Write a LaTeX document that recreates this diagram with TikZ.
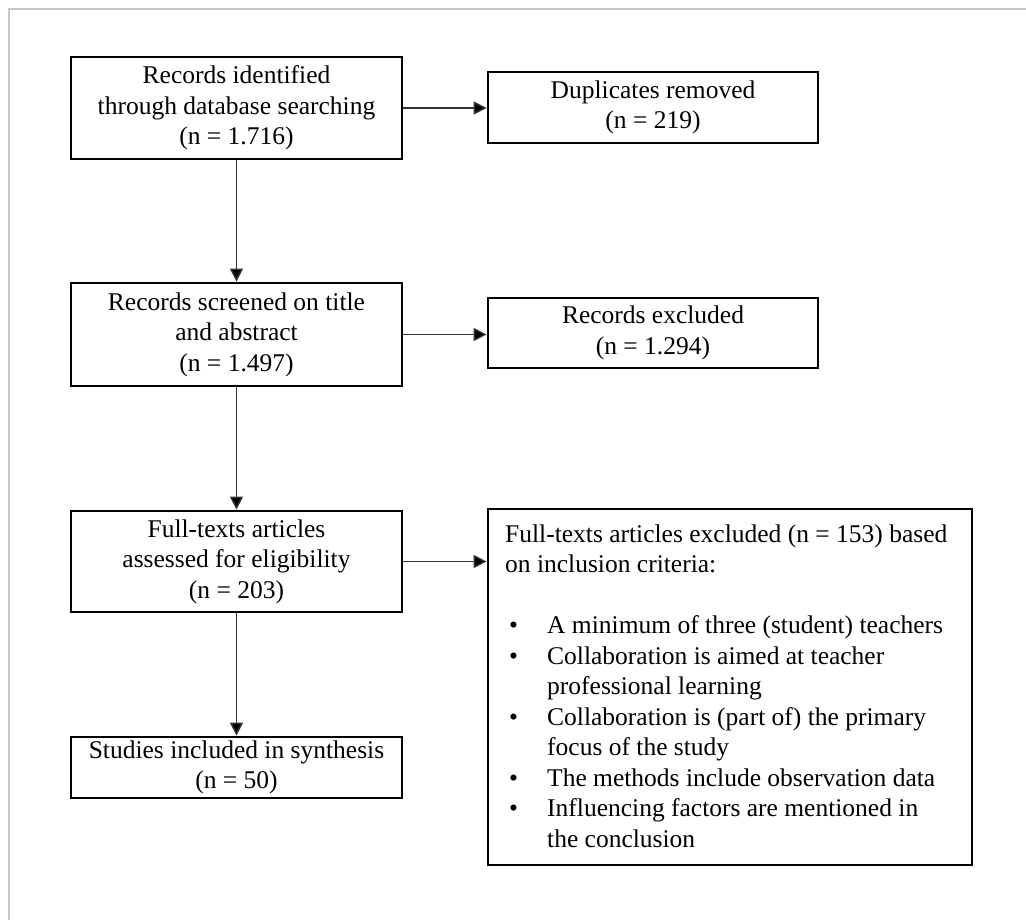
\documentclass[tikz,border=0pt]{standalone}
\usepackage{fontspec}
\setmainfont{Liberation Serif}
\usetikzlibrary{arrows.meta,calc}
\begin{document}
\begin{tikzpicture}[x=1pt,y=-1pt,
  txt/.style={font=\fontsize{25.5}{30.5}\selectfont},
  box/.style={txt,draw=black,line width=2.8pt,rectangle,inner sep=0pt,align=center},
  conn/.style={draw=black!80,line width=1.4pt,-{Triangle[width=13pt,length=13pt,fill=black]}}]
\useasboundingbox (0,0) rectangle (1026,920);
\draw[black!22,line width=2.2pt] (1026,9) -- (9,9) -- (9,920);
% left column
\node[box,minimum width=331pt,minimum height=102pt] (rid) at (236.5,108)
  {Records identified\\through database searching\\(n = 1.716)};
\node[box,minimum width=331pt,minimum height=103pt] (rsc) at (236.5,334.5)
  {Records screened on title\\and abstract\\(n = 1.497)};
\node[box,minimum width=331pt,minimum height=101pt] (fta) at (236.5,561.5)
  {Full-texts articles\\assessed for eligibility\\(n = 203)};
\node[box,minimum width=331pt,minimum height=61pt] (stu) at (236.5,767.5)
  {Studies included in synthesis\\(n = 50)};
% right column
\node[box,minimum width=330pt,minimum height=71pt] (dup) at (653,107.5)
  {Duplicates removed\\(n = 219)};
\node[box,minimum width=330pt,minimum height=70pt] (rex) at (653,333)
  {Records excluded\\(n = 1.294)};
\node[draw=black,line width=2.8pt,rectangle,inner sep=0pt,minimum width=484pt,minimum height=356pt] (exc) at (730,687) {};
\node[txt,anchor=north west,inner sep=0pt,align=left] (exctext) at (505,520.6)
  {\strut Full-texts articles excluded (n = 153) based\\
   on inclusion criteria:\\[30.5pt]
   \makebox[42pt][l]{\hspace{4pt}•}A minimum of three (student) teachers\\
   \makebox[42pt][l]{\hspace{4pt}•}Collaboration is aimed at teacher\\
   \hspace*{42pt}professional learning\\
   \makebox[42pt][l]{\hspace{4pt}•}Collaboration is (part of) the primary\\
   \hspace*{42pt}focus of the study\\
   \makebox[42pt][l]{\hspace{4pt}•}The methods include observation data\\
   \makebox[42pt][l]{\hspace{4pt}•}Influencing factors are mentioned in\\
   \hspace*{42pt}the conclusion};
% connectors
\draw[conn] (rid) -- (rsc);
\draw[conn] (rsc) -- (fta);
\draw[conn] (fta) -- (stu);
\draw[conn] (rid.east) -- (rid.east -| dup.west);
\draw[conn] (rsc.east) -- (rsc.east -| rex.west);
\draw[conn] (fta.east) -- (fta.east -| exc.west);
\end{tikzpicture}
\end{document}
